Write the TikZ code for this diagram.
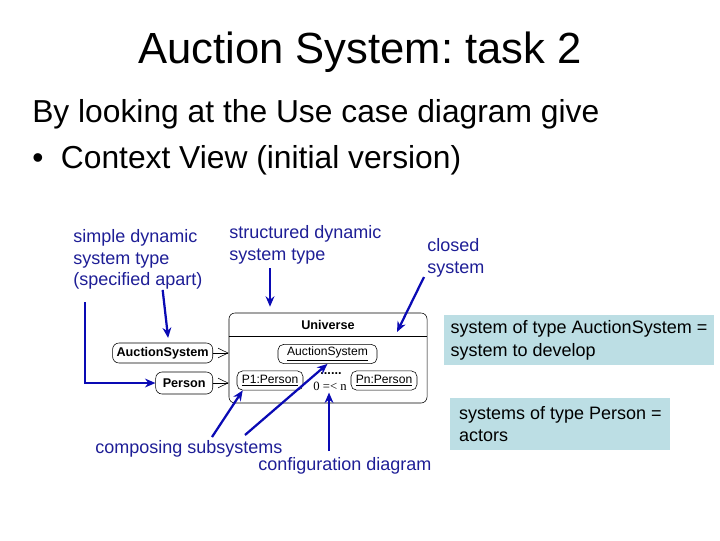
\documentclass[tikz,border=0pt]{standalone}
\usepackage{fontspec}
\setmainfont{Liberation Sans}
\newfontfamily\multfont{Liberation Serif}
\usetikzlibrary{arrows.meta,positioning,calc}
\definecolor{labelblue}{RGB}{30,30,150}
\definecolor{pointerblue}{RGB}{10,10,180}
\definecolor{notefill}{RGB}{188,222,228}
\frenchspacing

\tikzset{
  remark/.style={text=labelblue, font=\fontsize{12.8}{15.5}\selectfont, align=left, inner sep=0pt},
  pointer/.style={draw=pointerblue, line width=1.6pt, -{Stealth[length=2.6mm,width=2.2mm]}},
  note/.style={fill=notefill, font=\fontsize{12.8}{16}\selectfont, align=left, anchor=north west},
  typebox/.style={draw, rounded corners=1.6mm, font=\fontsize{9}{10}\selectfont\bfseries, minimum height=5mm, inner xsep=1mm, inner ysep=0pt},
  partbox/.style={draw, rounded corners=1.4mm, font=\fontsize{8.6}{10}\selectfont, minimum height=4.8mm, inner xsep=1mm, inner ysep=0pt},
  realizes/.style={-{Straight Barb[length=2.5mm,width=2.4mm]}, line width=0.4pt}
}

\begin{document}
\begin{tikzpicture}[x=0.025cm,y=-0.025cm]
\useasboundingbox (0,0) rectangle (720,540);

% heading
\node (title) at (360,52) {\fontsize{31}{36}\selectfont Auction System: task 2};
\node[anchor=west, inner sep=0pt] (intro) at (32,114) {\fontsize{22.6}{27}\selectfont By looking at the Use case diagram give};
\node[anchor=west, inner sep=0pt] (item) at (32,160) {\fontsize{22.6}{27}\selectfont •\hspace{0.55em}Context View (initial version)};

% universe
\node[draw, rounded corners=1.5mm, minimum width=49.5mm, minimum height=22.5mm] (universe) at (328,358) {};
\node[font=\fontsize{9}{10}\selectfont\bfseries, minimum height=5.75mm, inner sep=0pt] (unilabel) at (328,324.5) {Universe};
\draw (universe.west |- unilabel.south) -- (universe.east |- unilabel.south);

% system types
\node[typebox, anchor=east] (auction) at (213,353) {AuctionSystem};
\node[typebox, anchor=east, minimum width=14.25mm, minimum height=5.5mm] (person) at (213,383) {Person};
\draw[realizes] (auction) -- (auction -| universe.west);
\draw[realizes] (person) -- (person -| universe.west);

% configuration
\node[partbox, minimum width=24.75mm] (auctionpart) at (327.5,354) {\underline{AuctionSystem}};
\node[partbox, minimum width=16.5mm] (p1) at (270,380.5) {\underline{P1:Person}};
\node[partbox, minimum width=16.5mm] (pn) at (384,380.5) {\underline{Pn:Person}};
\node[font=\bfseries\fontsize{9}{10}\selectfont, inner sep=0pt] (dots) at (331,374) {......};
\node[font=\multfont\fontsize{9}{10}\selectfont, inner sep=0pt] (mult) at (330,386) {0 =< n};

% remarks
\node[remark, anchor=north west] (simplelabel) at (73,229) {simple dynamic\\system type\\(specified apart)};
\node[remark, anchor=north west] (structlabel) at (229,225) {structured dynamic\\system type};
\node[remark, anchor=north west] (closedlabel) at (427,238) {closed\\system};
\node[remark, anchor=base west] (complabel) at (95,453) {composing subsystems};
\node[remark, anchor=base west] (conflabel) at (258,470) {configuration diagram};

\node[note, inner xsep=1.6mm, minimum height=12.5mm] (devnote) at (444,315) {system of type AuctionSystem =\\system to develop};
\node[note, inner xsep=2.2mm, minimum height=13mm] (actornote) at (450,398) {systems of type Person =\\actors};

% pointers
\coordinate (simplecorner) at (85,302);
\coordinate (structfoot) at (270,268);
\coordinate (closedfoot) at (424,277);
\coordinate (closedtip) at (397,332);
\coordinate (compfoot1) at (212,437);
\coordinate (compfoot2) at (245,435);
\coordinate (conffoot) at (329,451);
\draw[pointer, shorten >=1.2mm] (simplelabel.south -| auction.north) -- ([xshift=1.5mm]auction.north);
\draw[pointer] (simplecorner) |- (person.west);
\draw[pointer, shorten >=1.5mm] (structfoot) -- (structfoot |- universe.north);
\draw[pointer] (closedfoot) -- (closedtip);
\draw[pointer] (compfoot1) -- ([xshift=1.5mm]p1.south west);
\draw[pointer] (compfoot2) -- (auctionpart.south);
\draw[pointer, shorten >=0.5mm] (conffoot) -- (conffoot |- mult.south);
\end{tikzpicture}
\end{document}
